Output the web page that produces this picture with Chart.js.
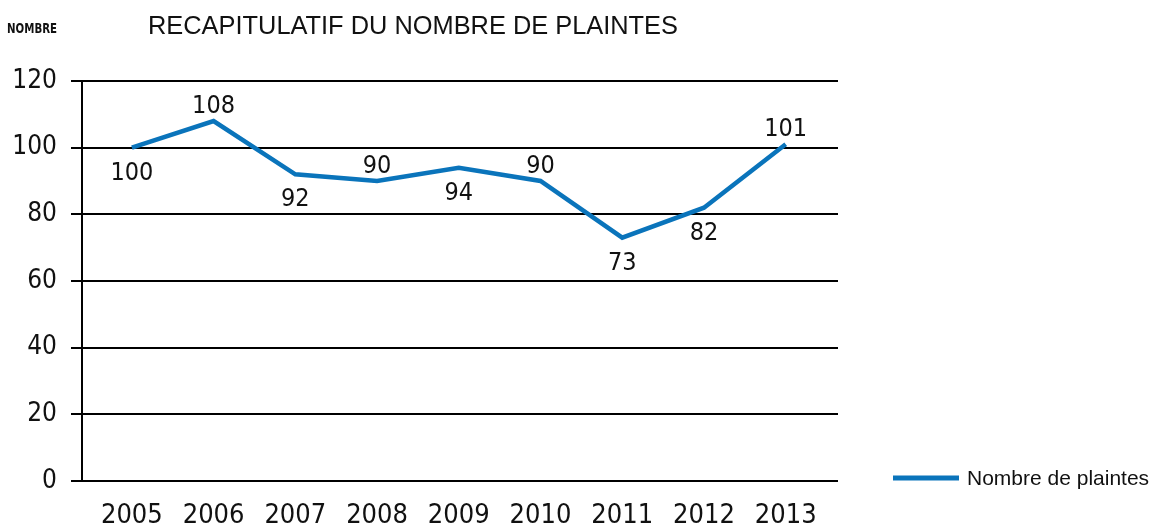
<!DOCTYPE html>
<html>
<head>
<meta charset="utf-8">
<script src="https://cdn.jsdelivr.net/npm/chart.js@4/dist/chart.umd.min.js"></script>
<style>
  html, body { margin: 0; padding: 0; background: #fff; }
  #wrap { width: 1162px; height: 531px; }
</style>
</head>
<body>
<div id="wrap"><canvas id="chart" width="1162" height="531"></canvas></div>
<script>
// données
const years = ['2005', '2006', '2007', '2008', '2009', '2010', '2011', '2012', '2013'];
const plaintes = [100, 108, 92, 90, 94, 90, 73, 82, 101];
const yTicks = [0, 20, 40, 60, 80, 100, 120];
const seriesLabel = 'Nombre de plaintes';
const chartTitle = 'RECAPITULATIF DU NOMBRE DE PLAINTES';
const axisTitle = 'NOMBRE';

const BLUE = '#0a74bb';
const NARROW = '"Liberation Sans Narrow", "DejaVu Sans Condensed", sans-serif';
const SANS = '"Liberation Sans", Arial, sans-serif';

// où placer chaque étiquette de valeur (dessus / dessous du point)
const labelSide = ['below', 'above', 'below', 'above', 'below', 'above', 'below', 'below', 'above'];

// titre, légende et étiquettes de valeurs
const decorPlugin = {
    id: 'decor',
    afterDatasetsDraw(chart) {
        const ctx = chart.ctx;
        const area = chart.chartArea;
        ctx.save();
        ctx.fillStyle = '#111';
        ctx.textBaseline = 'alphabetic';

        // petit titre d'axe (resserré horizontalement)
        ctx.save();
        ctx.font = 'bold 14px ' + NARROW;
        ctx.textAlign = 'left';
        ctx.translate(7, 33);
        ctx.scale(50 / ctx.measureText(axisTitle).width, 1);
        ctx.fillText(axisTitle, 0, 0);
        ctx.restore();

        // titre
        ctx.font = '25.4px ' + SANS;
        ctx.textAlign = 'left';
        ctx.fillText(chartTitle, 148, 34);

        // étiquettes de valeurs
        const meta = chart.getDatasetMeta(0);
        ctx.font = '25px ' + NARROW;
        ctx.textAlign = 'center';
        meta.data.forEach((pt, i) => {
            const y = labelSide[i] === 'above' ? pt.y - 8 : pt.y + 32;
            ctx.fillText(String(plaintes[i]), pt.x, y);
        });

        // légende
        const ds = chart.data.datasets[0];
        const ly = area.bottom - 3;
        ctx.strokeStyle = ds.borderColor;
        ctx.lineWidth = 5;
        ctx.beginPath();
        ctx.moveTo(area.right + 55, ly);
        ctx.lineTo(area.right + 121, ly);
        ctx.stroke();
        ctx.font = '21px ' + SANS;
        ctx.textAlign = 'left';
        ctx.fillText(ds.label, area.right + 129, ly + 7);
        ctx.restore();
    }
};

new Chart(document.getElementById('chart'), {
    type: 'line',
    data: {
        datasets: [{
            label: seriesLabel,
            data: plaintes.map((v, i) => ({ x: i, y: v })),
            borderColor: BLUE,
            backgroundColor: BLUE,
            borderWidth: 4.5,
            tension: 0,
            pointRadius: 0,
            fill: false
        }]
    },
    options: {
        responsive: false,
        animation: false,
        layout: { padding: { top: 81, right: 324, left: 0, bottom: 0 } },
        plugins: {
            legend: { display: false },
            title: { display: false },
            tooltip: { enabled: false }
        },
        scales: {
            x: {
                type: 'linear',
                min: -0.61,
                max: 8.64,
                afterBuildTicks: s => { s.ticks = years.map((_, i) => ({ value: i })); },
                afterFit: s => { s.height = 50; },
                grid: { display: false, drawTicks: false },
                border: { display: false },
                ticks: {
                    padding: 19,
                    color: '#111',
                    font: { family: NARROW, size: 27 },
                    callback: v => years[v] ?? '',
                    maxRotation: 0,
                    autoSkip: false
                }
            },
            y: {
                min: 0,
                max: 120,
                afterBuildTicks: s => { s.ticks = yTicks.map(v => ({ value: v })); },
                afterFit: s => { s.width = 82; },
                grid: { color: '#000', lineWidth: 2, tickLength: 11, drawTicks: true },
                border: { display: true, color: '#000', width: 2 },
                ticks: {
                    padding: 14,
                    color: '#111',
                    font: { family: NARROW, size: 26 }
                }
            }
        }
    },
    plugins: [decorPlugin]
});
</script>
</body>
</html>
